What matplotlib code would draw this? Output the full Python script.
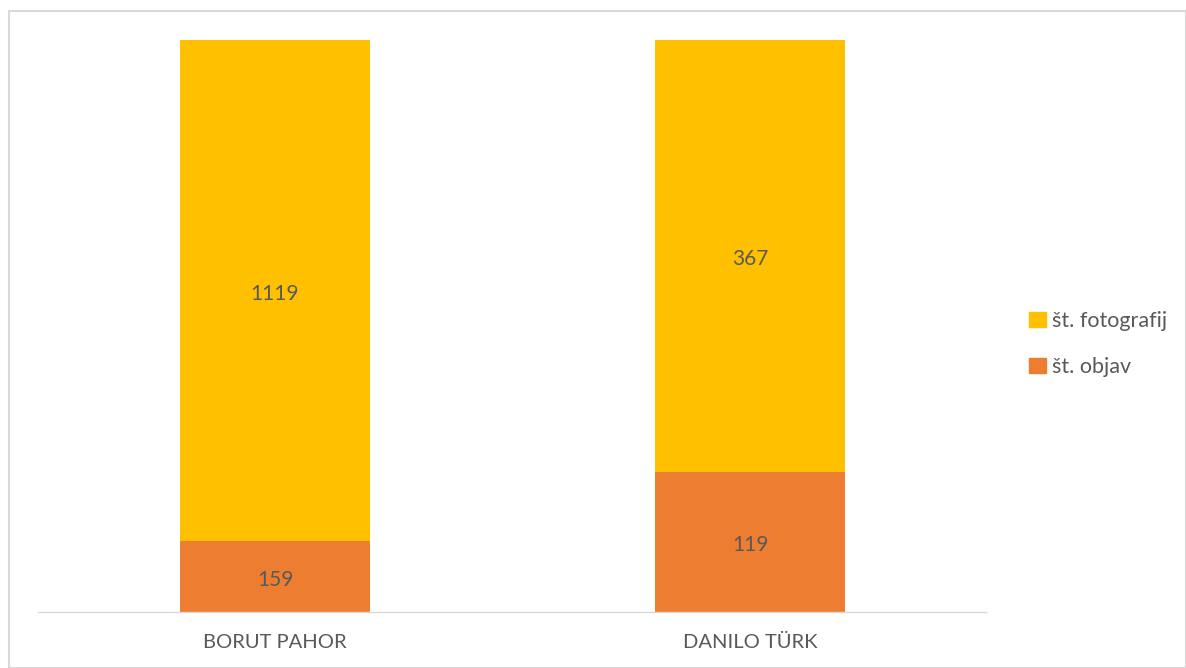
import matplotlib
matplotlib.use("Agg")
import matplotlib.pyplot as plt
from matplotlib.patches import Rectangle
import numpy as np

categories = ["BORUT PAHOR", "DANILO TÜRK"]
objav = [159, 119]
fotografij = [1119, 367]
series_names = ["št. fotografij", "št. objav"]

plt.rcParams['font.family'] = ['Lato', 'DejaVu Sans']
W, H = 1186, 668
fig = plt.figure(figsize=(W/100, H/100), dpi=100)
ax = fig.add_axes([38/W, 1-612/H, (986-38)/W, (612-40)/H])

tot = np.array(objav) + np.array(fotografij)
p_obj = np.array(objav) / tot
p_fot = np.array(fotografij) / tot
x = np.arange(len(categories))
ax.bar(x, p_obj, width=0.4, color="#ED7D31", label=series_names[1])
ax.bar(x, p_fot, width=0.4, bottom=p_obj, color="#FFC000", label=series_names[0])
tc = "#595959"
for i in range(len(x)):
    ax.annotate(str(objav[i]), (x[i], p_obj[i]/2), xytext=(0, -2.5), textcoords="offset points",
                ha="center", va="center", fontsize=15, color=tc)
    ax.annotate(str(fotografij[i]), (x[i], p_obj[i] + p_fot[i]/2), xytext=(0, -2.5),
                textcoords="offset points", ha="center", va="center", fontsize=15, color=tc)

ax.set_xlim(-(275-38)/475, 1 + (986-750)/475)
ax.set_ylim(0, 1)
for s in ["top", "right", "left"]:
    ax.spines[s].set_visible(False)
ax.spines["bottom"].set_color("#D9D9D9")
ax.spines["bottom"].set_linewidth(1)
ax.set_yticks([])
ax.set_xticks(x)
ax.set_xticklabels(categories, fontsize=14.5, color=tc)
ax.tick_params(axis="x", length=0, pad=16)

handles = [Rectangle((0, 0), 1, 1, color="#FFC000"), Rectangle((0, 0), 1, 1, color="#ED7D31")]
leg = fig.legend(handles, series_names, loc="center left", bbox_to_anchor=(1010/W, 1-344/H),
                 frameon=False, fontsize=15.5, handlelength=0.75, handleheight=0.75,
                 handletextpad=0.3, labelspacing=1.2)
for t in leg.get_texts():
    t.set_color(tc)

fig.patches.append(Rectangle((9/W, 0), (W-9)/W, 1-11/H, transform=fig.transFigure,
                             fill=False, edgecolor="#D9D9D9", linewidth=1.5))
fig.savefig("out.png", dpi=100)
